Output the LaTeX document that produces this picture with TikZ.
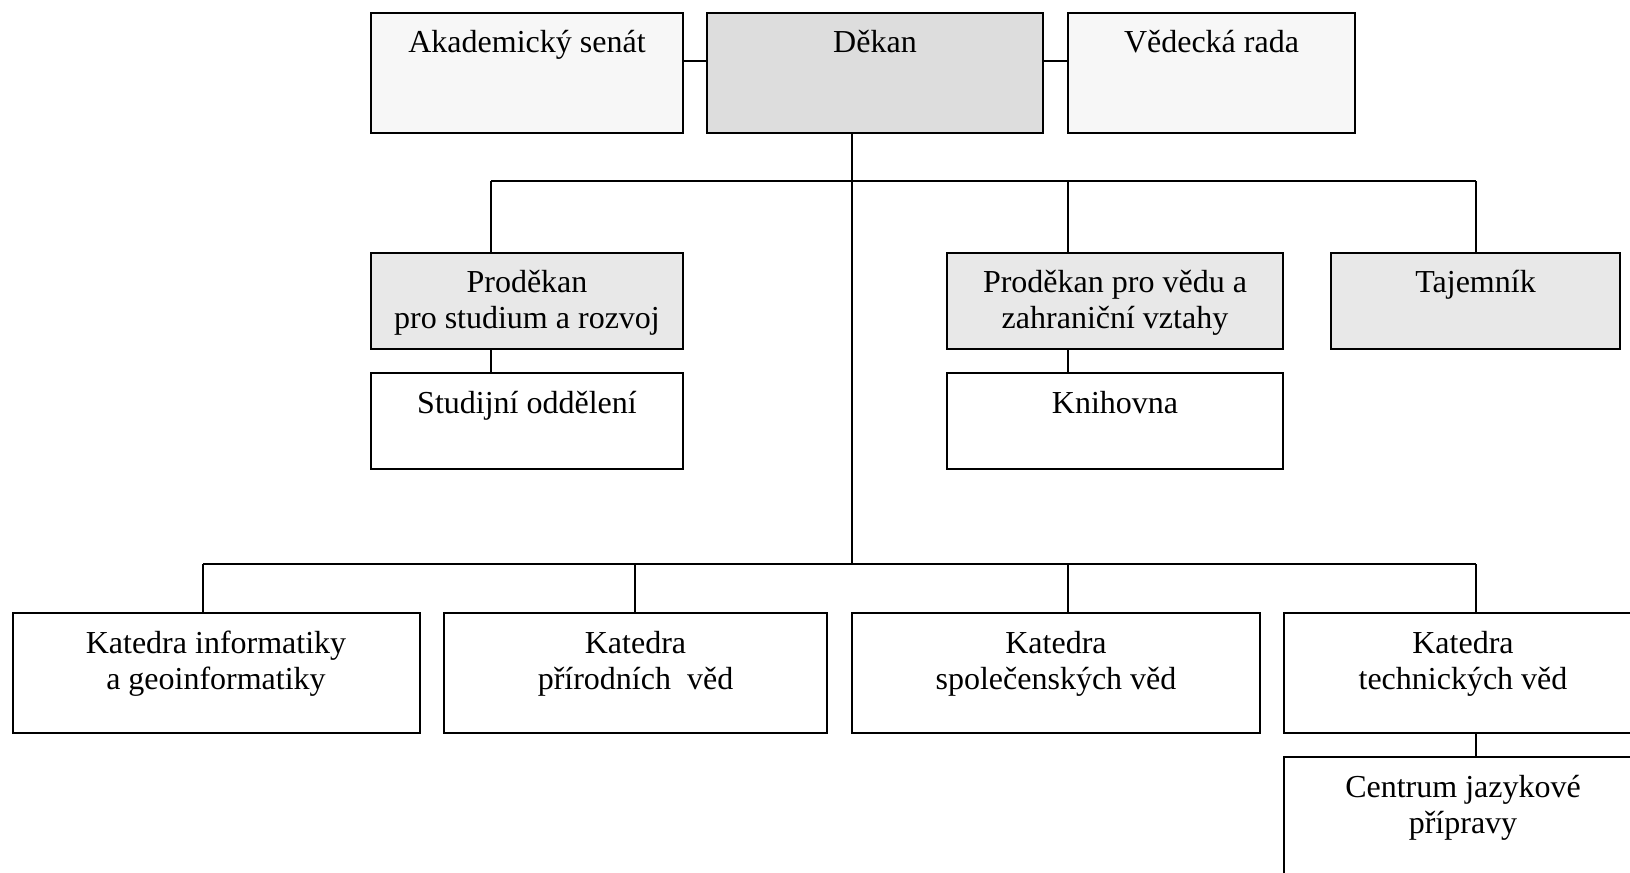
\documentclass[tikz,border=0pt]{standalone}
\usepackage{fontspec}
\setmainfont{Liberation Serif}
\usetikzlibrary{positioning}
\definecolor{orgdark}{HTML}{DDDDDD}
\definecolor{orgmid}{HTML}{E8E8E8}
\definecolor{orglight}{HTML}{F7F7F7}

\tikzset{
  unitbox/.style={draw=black, line width=1pt, anchor=north west, inner sep=0pt,
    outer sep=0pt, align=center, font=\fontsize{16}{18}\selectfont,
    text height=20pt, minimum height=0pt},
  tallbox/.style={unitbox, text depth=40pt},
  lowbox/.style={unitbox, text depth=28pt},
  % two lines: the baseline sits on the last line
  tallpair/.style={unitbox, text height=38pt, text depth=22pt},
  lowpair/.style={unitbox, text height=38pt, text depth=10pt},
  link/.style={draw=black, line width=1pt}
}

\begin{document}
\begin{tikzpicture}[x=0.5pt,y=-0.5pt]

  \useasboundingbox (0,0) rectangle (1630,873);
  \clip (0,0) rectangle (1630,873);

  % ---- Top row ----------------------------------------------
  \node[tallbox,fill=orglight,minimum width=156pt] (senat) at (371,12.5) {Akademický senát};
  \node[tallbox,fill=orgdark,minimum width=168pt] (dekan) at (707,12.5) {Děkan};
  \node[tallbox,fill=orglight,minimum width=143.5pt] (rada) at (1068,12.5) {Vědecká rada};

  % ---- Vice-deans and secretary -----------------------------
  \node[lowpair,fill=orgmid,minimum width=156pt] (prostud) at (371,252.5) {Proděkan\\pro studium a rozvoj};
  \node[lowbox,minimum width=156pt] (studodd) at (371,373) {Studijní oddělení};
  \node[lowpair,fill=orgmid,minimum width=168pt] (provedu) at (947,252.5) {Proděkan pro vědu a\\zahraniční vztahy};
  \node[lowbox,minimum width=168pt] (knihovna) at (947,373) {Knihovna};
  \node[lowbox,fill=orgmid,minimum width=144.5pt] (tajemnik) at (1331,252.5) {Tajemník};

  % ---- Departments ------------------------------------------
  \node[tallpair,minimum width=203.5pt] (katinf) at (12.5,613) {Katedra informatiky\\a geoinformatiky};
  \node[tallpair,minimum width=191.5pt] (katprir) at (444,613) {Katedra\\přírodních~ věd};
  \node[tallpair,minimum width=204pt] (katspol) at (852,613) {Katedra\\společenských věd};
  \node[tallpair,minimum width=179pt] (kattech) at (1284,613) {Katedra\\technických věd};
  \node[tallpair,minimum width=179pt] (centrum) at (1284,757) {Centrum jazykové\\přípravy};

  % ---- Connectors -------------------------------------------
  \coordinate (side) at (0,60.5);
  \draw[link] (senat.east |- side) -- (dekan.west |- side);
  \draw[link] (dekan.east |- side) -- (rada.west |- side);

  % upper bus
  \coordinate (up1) at (491,181);
  \coordinate (up2) at (1068,181);
  \coordinate (up3) at (1476,181);
  \draw[link] (up1) -- (up3);
  \draw[link] (up1) -- (up1 |- prostud.north);
  \draw[link] (up2) -- (up2 |- provedu.north);
  \draw[link] (up3) -- (up3 |- tajemnik.north);
  \draw[link] (up1 |- prostud.south) -- (up1 |- studodd.north);
  \draw[link] (up2 |- provedu.south) -- (up2 |- knihovna.north);

  % lower bus
  \coordinate (dn0) at (852,564);
  \coordinate (dn1) at (203,564);
  \coordinate (dn2) at (635,564);
  \coordinate (dn3) at (1068,564);
  \coordinate (dn4) at (1476,564);
  \draw[link] (dn0 |- dekan.south) -- (dn0);
  \draw[link] (dn1) -- (dn4);
  \draw[link] (dn1) -- (dn1 |- katinf.north);
  \draw[link] (dn2) -- (dn2 |- katprir.north);
  \draw[link] (dn3) -- (dn3 |- katspol.north);
  \draw[link] (dn4) -- (dn4 |- kattech.north);
  \draw[link] (dn4 |- kattech.south) -- (dn4 |- centrum.north);

\end{tikzpicture}
\end{document}
